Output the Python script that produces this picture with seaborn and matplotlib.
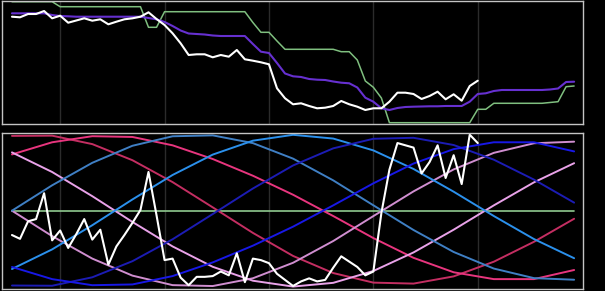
import matplotlib
matplotlib.use("Agg")
import matplotlib.pyplot as plt
import seaborn as sns
import pandas as pd

# ---------------- data ----------------
# top panel: price (white), slow average (purple), channel level (green)
price = [108.3, 107.7, 111.0, 111.0, 114.0, 106.7, 109.3, 102.3, 104.5, 106.7,
         104.3, 105.7, 100.7, 103.3, 105.7, 106.7, 108.3, 112.7, 106.0, 100.0,
         91.7, 81.7, 70.0, 70.7, 70.7, 67.7, 70.0, 68.3, 75.0, 65.7,
         64.3, 62.7, 60.7, 36.7, 26.7, 20.7, 21.7, 19.0, 16.7, 17.3,
         19.0, 24.0, 20.7, 18.3, 15.0, 16.7, 16.7, 23.3, 32.3, 32.3,
         31.0, 26.0, 29.0, 33.3, 25.7, 30.7, 24.3, 39.0, 44.3]

average = [111.7, 111.7, 111.7, 111.7, 111.7, 110.0, 109.0, 108.7, 108.3, 108.3,
           108.3, 108.3, 108.3, 108.3, 108.3, 108.3, 108.3, 107.0, 105.7, 103.0,
           99.0, 94.5, 91.5, 91.0, 90.5, 89.5, 89.0, 89.0, 89.0, 89.0,
           81.0, 73.3, 72.0, 62.0, 51.5, 48.7, 48.0, 46.0, 45.3, 45.0,
           43.5, 42.3, 41.7, 37.5, 27.3, 23.3, 16.7, 15.0, 17.0, 18.0,
           18.3, 18.5, 18.7, 18.7, 19.0, 19.0, 19.0, 23.3, 31.0, 31.7,
           34.0, 35.0, 35.0, 35.0, 35.0, 35.0, 35.0, 35.5, 36.5, 43.0,
           43.3]

channel = [123.3, 123.3, 123.3, 123.3, 123.3, 123.3, 118.3, 118.3, 118.3, 118.3,
           118.3, 118.3, 118.3, 118.3, 118.3, 118.3, 118.3, 97.7, 97.7, 113.3,
           113.3, 113.3, 113.3, 113.3, 113.3, 113.3, 113.3, 113.3, 113.3, 113.3,
           102.5, 92.7, 92.7, 84.0, 75.7, 75.7, 75.7, 75.7, 75.7, 75.7,
           75.7, 73.3, 73.3, 65.0, 44.0, 37.7, 27.0, 2.3, 2.3, 2.3,
           2.3, 2.3, 2.3, 2.3, 2.3, 2.3, 2.3, 2.3, 15.7, 15.7,
           21.7, 21.7, 21.7, 21.7, 21.7, 21.7, 21.7, 22.5, 23.3, 38.3,
           39.0]

# bottom panel: oscillator (white) and cycle waves
oscillator = [-0.32, -0.37, -0.14, -0.11, 0.23, -0.39, -0.26, -0.49, -0.31, -0.11,
              -0.38, -0.25, -0.71, -0.47, -0.32, -0.16, 0.01, 0.51, -0.06, -0.65,
              -0.63, -0.88, -0.98, -0.87, -0.87, -0.86, -0.80, -0.85, -0.56, -0.94,
              -0.63, -0.65, -0.69, -0.83, -0.91, -0.99, -0.93, -0.89, -0.93, -0.91,
              -0.75, -0.60, -0.67, -0.74, -0.85, -0.80, -0.03, 0.54, 0.89, 0.86,
              0.83, 0.49, 0.64, 0.86, 0.43, 0.73, 0.35, 1.00, 0.89]

wave_idx = [0, 5, 10, 15, 20, 25, 30, 35, 40, 45, 50, 55, 60, 65, 70]
wave_steel = [0.0, 0.334, 0.630, 0.854, 0.979, 0.991, 0.889, 0.685, 0.399, 0.071,
              -0.254, -0.543, -0.761, -0.887, -0.908]
wave_plum = [0.0, -0.334, -0.630, -0.854, -0.979, -0.991, -0.889, -0.685, -0.399, -0.071,
             0.254, 0.543, 0.761, 0.887, 0.908]
wave_dodger = [-0.767, -0.509, -0.191, 0.148, 0.470, 0.738, 0.921, 0.998, 0.949, 0.793,
               0.549, 0.250, -0.070, -0.373, -0.625]
wave_violet = [0.767, 0.509, 0.191, -0.148, -0.470, -0.738, -0.921, -0.998, -0.949, -0.793,
               -0.549, -0.250, 0.070, 0.373, 0.625]
wave_navy = [-0.984, -0.987, -0.876, -0.664, -0.376, -0.044, 0.292, 0.595, 0.820, 0.946,
             0.959, 0.864, 0.671, 0.409, 0.106]
wave_crimson = [0.984, 0.987, 0.876, 0.664, 0.376, 0.044, -0.292, -0.595, -0.820, -0.946,
                -0.959, -0.864, -0.671, -0.409, -0.106]
wave_blue = [-0.74, -0.90, -0.98, -0.97, -0.86, -0.68, -0.46, -0.21, 0.07, 0.36,
             0.62, 0.81, 0.90, 0.90, 0.78]
wave_pink = [0.74, 0.90, 0.98, 0.97, 0.86, 0.68, 0.46, 0.21, -0.07, -0.36,
             -0.62, -0.81, -0.90, -0.90, -0.78]
zero_idx = [0, 70]
zero_val = [0.0, 0.0]

grid_idx = [6, 19, 32, 45, 58]

# ---------------- styling ----------------
sns.set_theme(style="dark")
BG = "#000000"
plt.rcParams.update({
    "figure.facecolor": BG, "axes.facecolor": BG, "savefig.facecolor": BG,
    "axes.edgecolor": "#c4c4c4",
})

fig = plt.figure(figsize=(6.05, 2.91), dpi=100)
ax_top = fig.add_axes([0.0028, 0.5729, 0.9613, 0.4226])
ax_bot = fig.add_axes([0.0028, 0.0079, 0.9613, 0.5340])

for ax in (ax_top, ax_bot):
    ax.set_facecolor(BG)
    for sp in ax.spines.values():
        sp.set_color("#c4c4c4")
        sp.set_linewidth(1.0)
    ax.set_xticks(grid_idx)
    ax.set_yticks([])
    ax.tick_params(length=0, labelbottom=False, labelleft=False)
    ax.grid(True, axis="x", color="#2b2b2b", linewidth=1.0)
    ax.grid(False, axis="y")
    ax.set_xlim(-1.28, 71.14)
    ax.set_xlabel("")
    ax.set_ylabel("")

# top panel
df_long = pd.DataFrame({"i": range(len(channel)), "channel": channel, "average": average})
df_price = pd.DataFrame({"i": range(len(price)), "price": price})
sns.lineplot(data=df_long, x="i", y="channel", ax=ax_top, color="#7fbf7f", linewidth=1.1)
sns.lineplot(data=df_long, x="i", y="average", ax=ax_top, color="#6630d0", linewidth=1.5)
sns.lineplot(data=df_price, x="i", y="price", ax=ax_top, color="#ffffff", linewidth=1.5)
ax_top.set_ylim(0.7, 123.7)

# bottom panel
waves = [
    (wave_crimson, "#c42e62"),
    (wave_pink, "#e8357e"),
    (wave_plum, "#d08ed0"),
    (wave_violet, "#e9a2e9"),
    (wave_steel, "#3f7fc4"),
    (wave_dodger, "#2b90ec"),
    (wave_navy, "#1c1cb4"),
    (wave_blue, "#1818e6"),
]
sns.lineplot(x=zero_idx, y=zero_val, ax=ax_bot, color="#8fc98f", linewidth=1.2)
for vals, col in waves:
    sns.lineplot(x=wave_idx, y=vals, ax=ax_bot, color=col, linewidth=1.4)
sns.lineplot(x=list(range(len(oscillator))), y=oscillator, ax=ax_bot,
             color="#ffffff", linewidth=1.5)
ax_bot.set_ylim(-1.026, 1.018)

for ax in (ax_top, ax_bot):
    ax.set_xlabel("")
    ax.set_ylabel("")

fig.savefig("out.png", dpi=100, facecolor=BG)
